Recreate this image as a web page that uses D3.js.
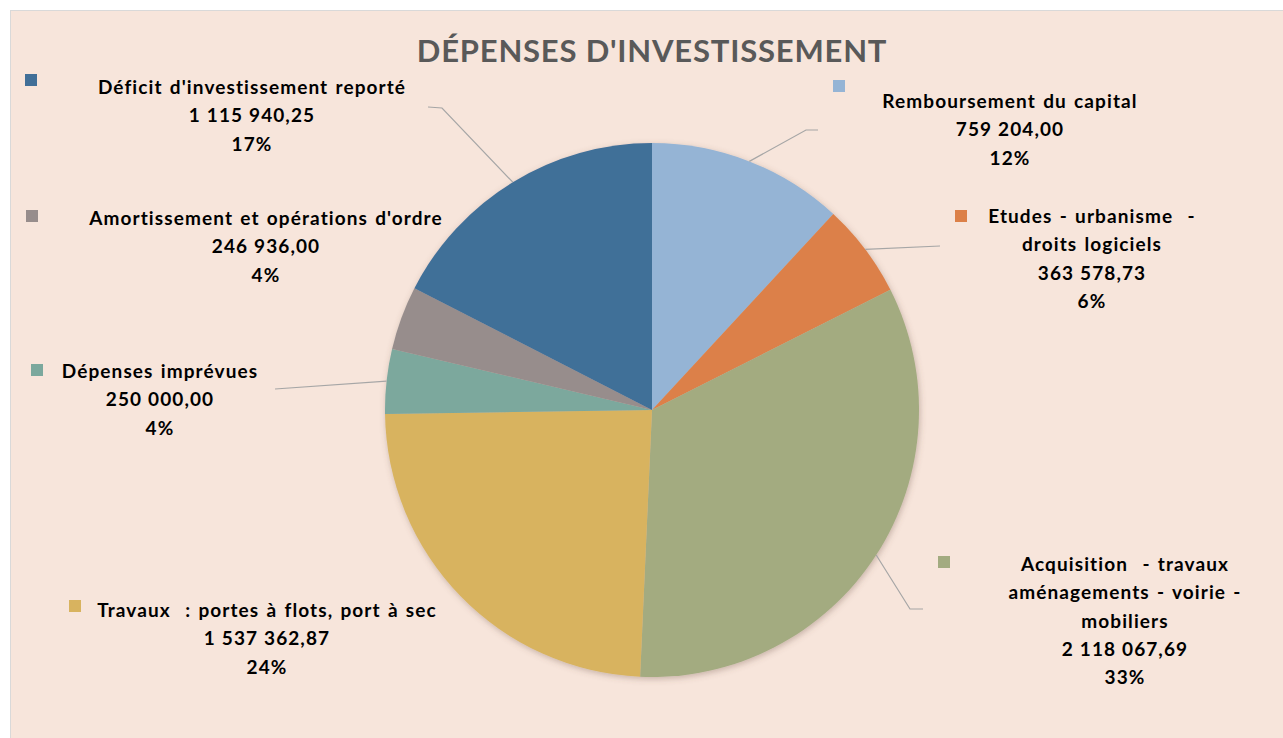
<!DOCTYPE html>
<html>
<head>
<meta charset="utf-8">
<script src="https://cdn.jsdelivr.net/npm/d3@7"></script>
<style>
  html, body { margin: 0; padding: 0; background: #ffffff; }
  svg { display: block; }
  text { font-family: Lato, "Open Sans", sans-serif; }
</style>
</head>
<body>
<svg id="chart" width="1283" height="738"></svg>
<script>
// data, clockwise from 12 o'clock
const categories = [
  "Remboursement du capital",
  "Etudes - urbanisme - droits logiciels",
  "Acquisition - travaux aménagements - voirie - mobiliers",
  "Travaux : portes à flots, port à sec",
  "Dépenses imprévues",
  "Amortissement et opérations d'ordre",
  "Déficit d'investissement reporté"
];
const values = [759204.00, 363578.73, 2118067.69, 1537362.87, 250000.00, 246936.00, 1115940.25];
const colors = ["#95B4D5", "#DC8048", "#A3AB80", "#D8B35F", "#7BA89D", "#978D8C", "#416F98"];
// how each category name is broken over lines in its label
const nameLines = [
  ["Remboursement du capital"],
  ["Etudes - urbanisme  -", "droits logiciels"],
  ["Acquisition  - travaux", "aménagements - voirie -", "mobiliers"],
  ["Travaux  : portes à flots, port à sec"],
  ["Dépenses imprévues"],
  ["Amortissement et opérations d'ordre"],
  ["Déficit d'investissement reporté"]
];
const title = "DÉPENSES D'INVESTISSEMENT";

// label layout: text centre x, first baseline y, legend square x,y, leader elbow points
const labelLayout = [
  { cx: 1010, y: 108, sx: 833, sy: 80,  leader: [[806, 130], [818, 130]] },
  { cx: 1092, y: 223, sx: 955, sy: 210, leader: [[940, 246]] },
  { cx: 1125, y: 571, sx: 938, sy: 556, leader: [[910, 609], [923, 609]] },
  { cx: 267,  y: 617, sx: 69,  sy: 600, leader: null },
  { cx: 160,  y: 378, sx: 31,  sy: 364, leader: [[275, 389]] },
  { cx: 266,  y: 225, sx: 26,  sy: 210, leader: null },
  { cx: 252,  y: 94,  sx: 25,  sy: 74,  leader: [[442, 108], [428, 107]] }
];

const W = 1283, H = 738;
const cx = 652, cy = 410, radius = 267;
const lineH = 28.3;

const fr = d3.formatLocale({ decimal: ",", thousands: "\u202f", grouping: [3], currency: ["", " €"] });
const fmtValue = fr.format(",.2f");
const total = d3.sum(values);
const fmtPct = v => Math.round(v / total * 100) + "%";

const svg = d3.select("#chart");

const defs = svg.append("defs");
const shadow = defs.append("filter").attr("id", "pieShadow")
  .attr("x", "-10%").attr("y", "-10%").attr("width", "120%").attr("height", "120%");
shadow.append("feDropShadow")
  .attr("dx", 1).attr("dy", 2).attr("stdDeviation", 3)
  .attr("flood-color", "#6b5040").attr("flood-opacity", 0.35);

// chart area
svg.append("rect")
  .attr("x", 10.5).attr("y", 10.5).attr("width", W).attr("height", H)
  .attr("fill", "#F7E5DB").attr("stroke", "#D9D9D9").attr("stroke-width", 1);

// title
svg.append("text")
  .attr("x", cx).attr("y", 62)
  .attr("text-anchor", "middle")
  .attr("font-size", 31).attr("font-weight", 700)
  .attr("letter-spacing", 0.8)
  .attr("fill", "#595959")
  .text(title);

const pieData = d3.pie().sort(null).value(d => d)(values);
const arc = d3.arc().innerRadius(0).outerRadius(radius);
const outer = d3.arc().innerRadius(radius).outerRadius(radius);

const g = svg.append("g").attr("transform", `translate(${cx},${cy})`);
g.append("g").attr("filter", "url(#pieShadow)")
  .selectAll("path")
  .data(pieData)
  .enter()
  .append("path")
  .attr("d", arc)
  .attr("fill", (d, i) => colors[i]);

// leader lines
const leaders = svg.append("g").attr("class", "leaders");
pieData.forEach((d, i) => {
  const lay = labelLayout[i];
  if (!lay.leader) return;
  const c = outer.centroid(d);
  const pts = [[cx + c[0], cy + c[1]]].concat(lay.leader);
  leaders.append("path")
    .attr("d", d3.line()(pts))
    .attr("fill", "none")
    .attr("stroke", "#A6A6A6")
    .attr("stroke-width", 1.2);
});

// labels
const labels = svg.append("g").attr("class", "labels");
categories.forEach((name, i) => {
  const lay = labelLayout[i];
  labels.append("rect")
    .attr("x", lay.sx).attr("y", lay.sy)
    .attr("width", 12).attr("height", 12)
    .attr("fill", colors[i]);
  const lines = nameLines[i].concat([fmtValue(values[i]), fmtPct(values[i])]);
  const t = labels.append("text")
    .attr("text-anchor", "middle")
    .attr("font-size", 19).attr("font-weight", 700)
    .attr("letter-spacing", 1.1)
    .attr("word-spacing", 1.5)
    .attr("fill", "#000000");
  lines.forEach((ln, k) => {
    t.append("tspan")
      .attr("x", lay.cx)
      .attr("y", lay.y + k * lineH)
      .attr("xml:space", "preserve")
      .text(ln);
  });
});
</script>
</body>
</html>
